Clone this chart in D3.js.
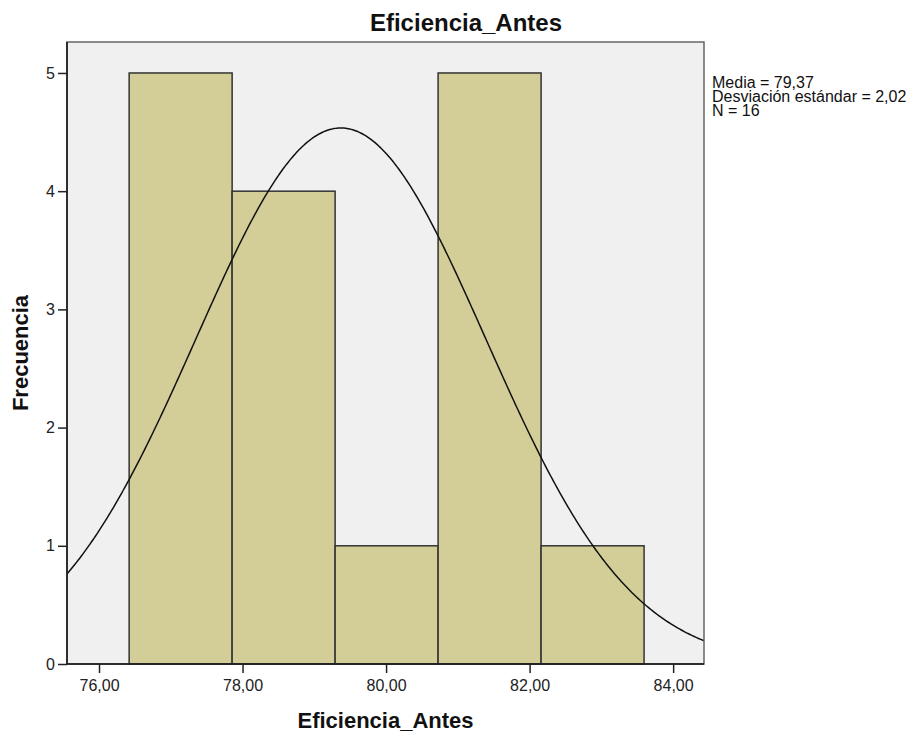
<!DOCTYPE html>
<html>
<head>
<meta charset="utf-8">
<script src="https://cdn.jsdelivr.net/npm/d3@7"></script>
<style>
  body { margin: 0; background: #fff; }
  text { font-family: "Liberation Sans", Arial, sans-serif; }
</style>
</head>
<body>
<script>
// Donnees
var titre = "Eficiencia_Antes";
var etiquetteX = "Eficiencia_Antes";
var etiquetteY = "Frecuencia";
var bornes = [76.42, 77.855, 79.29, 80.725, 82.16, 83.595];
var effectifs = [5, 4, 1, 5, 1];
var media = 79.37;
var desviacion = 2.02;
var n = 16;
var ticksX = [76, 78, 80, 82, 84];
var ticksY = [0, 1, 2, 3, 4, 5];
var leyenda = ["Media = 79,37", "Desviación estándar = 2,02", "N = 16"];

var w = 923, h = 736;
var gauche = 67, droite = 704, haut = 42, bas = 664;

var svg = d3.select("body").append("svg")
  .attr("width", w)
  .attr("height", h);

var x = d3.scaleLinear().domain([75.554, 84.43]).range([gauche, droite]);
var y = d3.scaleLinear().domain([0, 5.262]).range([bas, haut]);

// fond du graphique
svg.append("rect")
  .attr("x", gauche).attr("y", haut)
  .attr("width", droite - gauche).attr("height", bas - haut)
  .style("fill", "#f0f0f0");

// barres
var barres = effectifs.map(function(c, i) {
  return { x0: bornes[i], x1: bornes[i + 1], c: c };
});
svg.selectAll(".barre")
  .data(barres)
  .enter()
  .append("rect")
  .attr("class", "barre")
  .attr("x", function(d) { return x(d.x0); })
  .attr("width", function(d) { return x(d.x1) - x(d.x0); })
  .attr("y", function(d) { return y(d.c); })
  .attr("height", function(d) { return y(0) - y(d.c); })
  .style("fill", "#d3ce98")
  .style("stroke", "#333")
  .style("stroke-width", 1.5);

// courbe normale
var largeur = bornes[1] - bornes[0];
var pts = d3.range(75.554, 84.43, 0.02).concat([84.43]);
var ligne = d3.line()
  .x(function(v) { return x(v); })
  .y(function(v) {
    var z = (v - media) / desviacion;
    return y(n * largeur * Math.exp(-0.5 * z * z) / (desviacion * Math.sqrt(2 * Math.PI)));
  });
svg.append("path")
  .datum(pts)
  .attr("d", ligne)
  .style("fill", "none")
  .style("stroke", "#111")
  .style("stroke-width", 1.5);

// cadre
svg.append("rect")
  .attr("x", gauche).attr("y", haut)
  .attr("width", droite - gauche).attr("height", bas - haut)
  .style("fill", "none")
  .style("stroke", "#666")
  .style("stroke-width", 1.5);
svg.append("line")
  .attr("x1", gauche).attr("x2", gauche).attr("y1", haut).attr("y2", bas)
  .style("stroke", "#111").style("stroke-width", 1.5);
svg.append("line")
  .attr("x1", gauche).attr("x2", droite).attr("y1", bas).attr("y2", bas)
  .style("stroke", "#111").style("stroke-width", 1.5);

// axes
var axeX = d3.axisBottom(x).tickValues(ticksX).tickSize(9).tickPadding(7)
  .tickFormat(function(d) { return d.toFixed(2).replace(".", ","); });
var gX = svg.append("g").attr("transform", "translate(0," + bas + ")").call(axeX);
gX.select(".domain").remove();

var axeY = d3.axisLeft(y).tickValues(ticksY).tickSize(9).tickPadding(3)
  .tickFormat(d3.format("d"));
var gY = svg.append("g").attr("transform", "translate(" + gauche + ",0)").call(axeY);
gY.select(".domain").remove();

svg.selectAll(".tick line").style("stroke", "#222").style("stroke-width", 1.5);
svg.selectAll(".tick text")
  .style("font-family", "'Liberation Sans', Arial, sans-serif")
  .style("font-size", "16px")
  .style("fill", "#222");

// titre
svg.append("text")
  .text(titre)
  .attr("x", 466).attr("y", 31)
  .attr("text-anchor", "middle")
  .style("font-size", "24px")
  .style("font-weight", "bold")
  .style("fill", "#111");

svg.append("text")
  .text(etiquetteX)
  .attr("x", (gauche + droite) / 2).attr("y", 728)
  .attr("text-anchor", "middle")
  .style("font-size", "22px")
  .style("font-weight", "bold")
  .style("fill", "#111");

svg.append("text")
  .text(etiquetteY)
  .attr("transform", "translate(28," + ((haut + bas) / 2) + ") rotate(-90)")
  .attr("text-anchor", "middle")
  .style("font-size", "22px")
  .style("font-weight", "bold")
  .style("fill", "#111");

// legende
svg.selectAll(".leg")
  .data(leyenda)
  .enter()
  .append("text")
  .attr("class", "leg")
  .text(function(d) { return d; })
  .attr("x", 712)
  .attr("y", function(d, i) { return 88 + i * 14; })
  .style("font-size", "16px")
  .style("fill", "#111");
</script>
</body>
</html>
